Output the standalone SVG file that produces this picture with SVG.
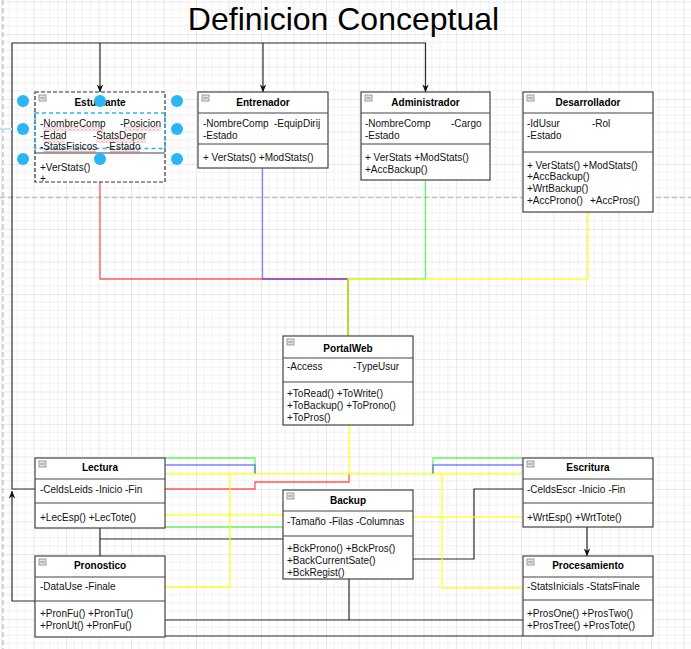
<svg xmlns="http://www.w3.org/2000/svg" width="691" height="649" viewBox="0 0 691 649">
<defs>
<style>
.box{fill:#fff;stroke:#444;stroke-width:1.2}
.sep{stroke:#444;stroke-width:1.2;fill:none}
.t{font-family:"Liberation Sans",Arial,sans-serif;font-size:10px;fill:#111}
.h{font-family:"Liberation Sans",Arial,sans-serif;font-size:10px;font-weight:bold;fill:#000;text-anchor:middle}
.k{fill:none;stroke:#2a2a2a;stroke-width:1.2}
.r{fill:none;stroke:#ff2020;stroke-width:1.3;stroke-opacity:.75}
.b{fill:none;stroke:#2020ff;stroke-width:1.3;stroke-opacity:.55}
.g{fill:none;stroke:#00ee00;stroke-width:1.3;stroke-opacity:.6}
.y{fill:none;stroke:#ffff00;stroke-width:1.4;stroke-opacity:.8}
.hd{fill:#29b6f2}
.ico{fill:#e4e4e4;stroke:#888;stroke-width:.8}
</style>
<pattern id="grid" patternUnits="userSpaceOnUse" width="32.5" height="32.5" x="1" y="1.5">
<path d="M8.125,0V32.5M16.25,0V32.5M24.375,0V32.5M0,8.125H32.5M0,16.25H32.5M0,24.375H32.5" stroke="#f1f1f1" stroke-width="1" fill="none"/>
<path d="M0,0V32.5M0,0H32.5" stroke="#d6d6d6" stroke-width="1" fill="none"/>
</pattern>
<pattern id="wave" patternUnits="userSpaceOnUse" width="4" height="3">
<path d="M0,2.5 L2,0.5 L4,2.5" stroke="#e03030" stroke-width="0.8" fill="none"/>
</pattern>
<marker id="arr" viewBox="0 0 10 10" refX="9.5" refY="5" markerWidth="8" markerHeight="8" orient="auto" markerUnits="userSpaceOnUse">
<path d="M0,1 L10,5 L0,9 L3,5 z" fill="#111"/>
</marker>
</defs>
<rect width="691" height="649" fill="#fff"/>
<rect width="691" height="649" fill="url(#grid)"/>
<path d="M3,0V649M0,197.5H691" stroke="#c8c8c8" stroke-width="1.5" stroke-dasharray="5,3" fill="none"/>
<text x="343.5" y="30" font-family="'Liberation Sans',Arial,sans-serif" font-size="32" text-anchor="middle" fill="#000">Definicion Conceptual</text>

<g id="connectors">
<path class="k" d="M35,489 H12 V43 H425.5 V92" marker-end="url(#arr)"/>
<path class="k" d="M100,43 V92" marker-end="url(#arr)"/>
<path class="k" d="M263,43 V92" marker-end="url(#arr)"/>
<path class="k" d="M35,601 H12 V491" marker-end="url(#arr)"/>
<path class="k" d="M587,527 V556" marker-end="url(#arr)"/>
<path class="k" d="M100,528 V556 M100,539 H283"/>
<path class="k" d="M413,559 H474 V489 H523"/>
<path class="k" d="M349,579 V620 M165,620 H523"/>
<path class="k" d="M165,636 H523"/>
<path d="M0,129 H12" stroke="#bfe6f8" stroke-width="2" fill="none"/>

<path class="r" d="M100,182 V279 H348 V336"/>
<path class="b" d="M262.5,168 V279 H348 V336"/>
<path class="g" d="M425.5,180 V279 H348 V336"/>
<path class="y" d="M588,212 V279 H348 V336"/>

<path class="g" d="M165,458 H255 V474 M433,474 V458 H523 M165,527 H283"/>
<path class="b" d="M165,465 H255 V474 M433,474 V465 H523"/>
<path class="r" d="M349,474 V482 H255 V489 H165"/>
<path class="y" d="M349,425 V474 M165,474 H523 M230,474 V587 H165 M442,474 V588 H523 M165,515 H283 M413,517 H523"/>
</g>

<g id="estudiante">
<rect x="35" y="92" width="130" height="90" fill="#fff" stroke="#333" stroke-width="1.2" stroke-dasharray="4,2"/>
<rect x="35" y="113" width="130" height="35.5" fill="none" stroke="#29b6f2" stroke-width="1.3" stroke-dasharray="4,3"/>
<line class="sep" x1="35" y1="153" x2="165" y2="153"/>
<rect class="ico" x="39" y="95" width="7" height="6"/>
<line x1="40.5" y1="98" x2="44.5" y2="98" stroke="#666" stroke-width=".8"/>
<text class="h" x="100" y="106">Estudiante</text>
<text class="t" x="40" y="127">-NombreComp</text>
<text class="t" x="120" y="127">-Posicion</text>
<text class="t" x="40" y="139">-Edad</text>
<text class="t" x="93" y="139">-StatsDepor</text>
<text class="t" x="40" y="150">-StatsFisicos</text>
<text class="t" x="106" y="150">-Estado</text>
<rect x="43" y="127.5" width="61" height="3" fill="url(#wave)"/>
<rect x="124" y="127.5" width="37" height="3" fill="url(#wave)"/>
<rect x="43" y="139.5" width="22" height="3" fill="url(#wave)"/>
<rect x="96" y="139.5" width="50" height="3" fill="url(#wave)"/>
<rect x="43" y="150.5" width="53" height="3" fill="url(#wave)"/>
<rect x="110" y="150.5" width="30" height="3" fill="url(#wave)"/>
<text class="t" x="40" y="171">+VerStats()</text>
<text class="t" x="40" y="182">+</text>
<circle class="hd" cx="23" cy="101" r="6"/>
<circle class="hd" cx="100" cy="101" r="6"/>
<circle class="hd" cx="177" cy="101" r="6"/>
<circle class="hd" cx="23" cy="129" r="6"/>
<circle class="hd" cx="177" cy="129" r="6"/>
<circle class="hd" cx="23" cy="159" r="6"/>
<circle class="hd" cx="100" cy="159" r="6"/>
<circle class="hd" cx="177" cy="159" r="6"/>
</g>

<g id="entrenador">
<rect class="box" x="198" y="92" width="130" height="76"/>
<path class="sep" d="M198,113H328M198,144H328"/>
<rect class="ico" x="202" y="95" width="7" height="6"/>
<line x1="203.5" y1="98" x2="207.5" y2="98" stroke="#666" stroke-width=".8"/>
<text class="h" x="263" y="106">Entrenador</text>
<text class="t" x="203" y="127">-NombreComp</text>
<text class="t" x="274" y="127">-EquipDirij</text>
<text class="t" x="203" y="139">-Estado</text>
<text class="t" x="203" y="161">+ VerStats() +ModStats()</text>
</g>

<g id="administrador">
<rect class="box" x="361" y="92" width="129" height="88"/>
<path class="sep" d="M361,113H490M361,144H490"/>
<rect class="ico" x="365" y="95" width="7" height="6"/>
<line x1="366.5" y1="98" x2="370.5" y2="98" stroke="#666" stroke-width=".8"/>
<text class="h" x="425.5" y="106">Administrador</text>
<text class="t" x="365" y="127">-NombreComp</text>
<text class="t" x="451" y="127">-Cargo</text>
<text class="t" x="365" y="139">-Estado</text>
<text class="t" x="365" y="161">+ VerStats +ModStats()</text>
<text class="t" x="365" y="173">+AccBackup()</text>
</g>

<g id="desarrollador">
<rect class="box" x="523" y="92" width="130" height="120"/>
<path class="sep" d="M523,113H653M523,152H653"/>
<rect class="ico" x="527" y="95" width="7" height="6"/>
<line x1="528.5" y1="98" x2="532.5" y2="98" stroke="#666" stroke-width=".8"/>
<text class="h" x="588" y="106">Desarrollador</text>
<text class="t" x="527" y="127">-IdUsur</text>
<text class="t" x="592" y="127">-Rol</text>
<text class="t" x="527" y="139">-Estado</text>
<text class="t" x="527" y="168.5">+ VerStats() +ModStats()</text>
<text class="t" x="527" y="180">+AccBackup()</text>
<text class="t" x="527" y="192">+WrtBackup()</text>
<text class="t" x="527" y="203.5">+AccProno()</text>
<text class="t" x="590" y="203.5">+AccPros()</text>
</g>

<g id="portalweb">
<rect class="box" x="283" y="336" width="130" height="89"/>
<path class="sep" d="M283,358H413M283,382H413"/>
<rect class="ico" x="287" y="339" width="7" height="6"/>
<line x1="288.5" y1="342" x2="292.5" y2="342" stroke="#666" stroke-width=".8"/>
<text class="h" x="348" y="352">PortalWeb</text>
<text class="t" x="287" y="370">-Access</text>
<text class="t" x="353" y="370">-TypeUsur</text>
<text class="t" x="287" y="396.5">+ToRead() +ToWrite()</text>
<text class="t" x="287" y="408.5">+ToBackup() +ToProno()</text>
<text class="t" x="287" y="420.5">+ToPros()</text>
</g>

<g id="lectura">
<rect class="box" x="35" y="458" width="130" height="70"/>
<path class="sep" d="M35,479H165M35,503H165"/>
<rect class="ico" x="39" y="461" width="7" height="6"/>
<line x1="40.5" y1="464" x2="44.5" y2="464" stroke="#666" stroke-width=".8"/>
<text class="h" x="100" y="471">Lectura</text>
<text class="t" x="40" y="492.5">-CeldsLeids -Inicio -Fin</text>
<text class="t" x="40" y="520.5">+LecEsp() +LecTote()</text>
</g>

<g id="pronostico">
<rect class="box" x="35" y="556" width="130" height="81"/>
<path class="sep" d="M35,577H165M35,601H165"/>
<rect class="ico" x="39" y="559" width="7" height="6"/>
<line x1="40.5" y1="562" x2="44.5" y2="562" stroke="#666" stroke-width=".8"/>
<text class="h" x="100" y="569">Pronostico</text>
<text class="t" x="40" y="589.5">-DataUse -Finale</text>
<text class="t" x="40" y="617">+PronFu() +PronTu()</text>
<text class="t" x="40" y="629">+PronUt() +PronFu()</text>
</g>

<g id="backup">
<rect class="box" x="283" y="490" width="130" height="89"/>
<path class="sep" d="M283,511H413M283,536H413"/>
<rect class="ico" x="287" y="493" width="7" height="6"/>
<line x1="288.5" y1="496" x2="292.5" y2="496" stroke="#666" stroke-width=".8"/>
<text class="h" x="348" y="504">Backup</text>
<text class="t" x="287" y="524.5">-Tamaño -Filas -Columnas</text>
<text class="t" x="287" y="551.5">+BckProno() +BckPros()</text>
<text class="t" x="287" y="563.5">+BackCurrentSate()</text>
<text class="t" x="287" y="576">+BckRegist()</text>
</g>

<g id="escritura">
<rect class="box" x="523" y="458" width="130" height="69"/>
<path class="sep" d="M523,479H653M523,503H653"/>
<rect class="ico" x="527" y="461" width="7" height="6"/>
<line x1="528.5" y1="464" x2="532.5" y2="464" stroke="#666" stroke-width=".8"/>
<text class="h" x="588" y="471">Escritura</text>
<text class="t" x="527" y="492.5">-CeldsEscr -Inicio -Fin</text>
<text class="t" x="527" y="520.5">+WrtEsp() +WrtTote()</text>
</g>

<g id="procesamiento">
<rect class="box" x="523" y="556" width="130" height="80"/>
<path class="sep" d="M523,577H653M523,600H653"/>
<rect class="ico" x="527" y="559" width="7" height="6"/>
<line x1="528.5" y1="562" x2="532.5" y2="562" stroke="#666" stroke-width=".8"/>
<text class="h" x="588" y="569">Procesamiento</text>
<text class="t" x="527" y="589.5">-StatsInicials -StatsFinale</text>
<text class="t" x="527" y="617">+ProsOne() +ProsTwo()</text>
<text class="t" x="527" y="629">+ProsTree() +ProsTote()</text>
</g>
</svg>
